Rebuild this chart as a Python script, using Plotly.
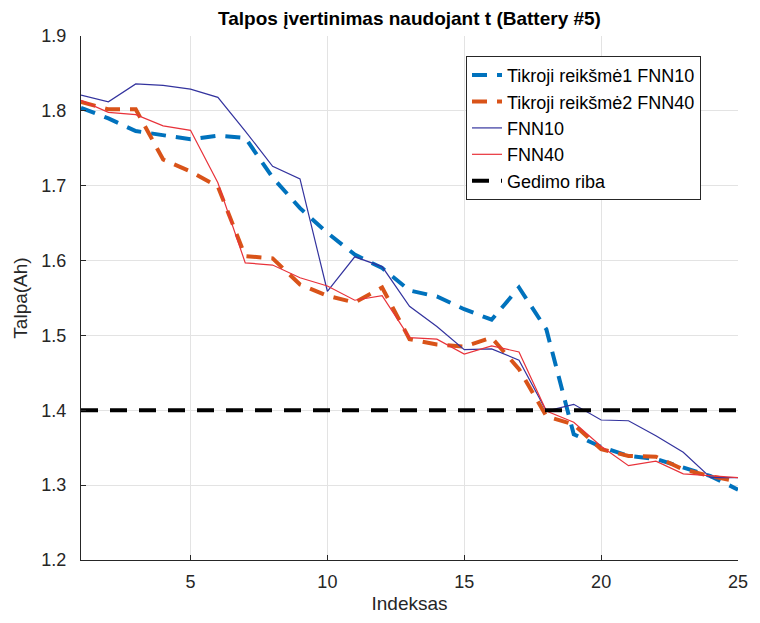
import plotly.graph_objects as go

idx = list(range(1, 26))
true1_fnn10 = [1.804, 1.790, 1.773, 1.768, 1.762, 1.767, 1.764, 1.711, 1.670, 1.637,
               1.608, 1.590, 1.560, 1.552, 1.535, 1.521, 1.564, 1.508, 1.368, 1.351,
               1.339, 1.335, 1.324, 1.312, 1.294]
true2_fnn40 = [1.812, 1.802, 1.802, 1.735, 1.719, 1.699, 1.606, 1.603, 1.568, 1.553,
               1.544, 1.564, 1.495, 1.488, 1.485, 1.497, 1.455, 1.392, 1.381, 1.348,
               1.339, 1.338, 1.321, 1.312, 1.305]
fnn10 = [1.821, 1.812, 1.836, 1.834, 1.829, 1.818, 1.773, 1.726, 1.709, 1.559,
         1.605, 1.592, 1.539, 1.512, 1.481, 1.482, 1.467, 1.399, 1.408, 1.387,
         1.386, 1.366, 1.344, 1.310, 1.310]
fnn40 = [1.814, 1.798, 1.795, 1.780, 1.774, 1.704, 1.597, 1.594, 1.577, 1.566,
         1.547, 1.553, 1.497, 1.495, 1.475, 1.486, 1.478, 1.399, 1.384, 1.352,
         1.326, 1.332, 1.315, 1.312, 1.310]
threshold = 1.4

x_ticks = [5, 10, 15, 20, 25]
y_ticks = [1.2, 1.3, 1.4, 1.5, 1.6, 1.7, 1.8, 1.9]

fig = go.Figure()
fig.add_trace(go.Scatter(x=idx, y=true1_fnn10, mode="lines", name="Tikroji reikšmė1 FNN10",
                         legendgroup="a",
                         line=dict(color="#0072BD", width=4, dash="15px,10px")))
fig.add_trace(go.Scatter(x=idx, y=true2_fnn40, mode="lines", name="Tikroji reikšmė2 FNN40",
                         legendgroup="b",
                         line=dict(color="#D95319", width=4, dash="15px,10px")))
fig.add_trace(go.Scatter(x=idx, y=fnn10, mode="lines", name="FNN10", legendgroup="c",
                         line=dict(color="#33339e", width=1.2)))
fig.add_trace(go.Scatter(x=idx, y=fnn40, mode="lines", name="FNN40", legendgroup="d",
                         line=dict(color="#e8323a", width=1.2)))
fig.add_trace(go.Scatter(x=[idx[0], idx[-1]], y=[threshold, threshold], mode="lines",
                         name="Gedimo riba", legendgroup="e",
                         line=dict(color="black", width=4, dash="17px,12px")))

font_family = "Liberation Sans, Arial, sans-serif"
fig.update_layout(
    width=760, height=623,
    margin=dict(l=81, r=15, t=36, b=62),
    paper_bgcolor="white", plot_bgcolor="white",
    font=dict(family=font_family, color="#262626"),
    title=dict(text="<b>Talpos įvertinimas naudojant t (Battery #5)</b>",
               xref="paper", x=0.5, xanchor="center", y=1 - 18 / 623, yanchor="middle",
               font=dict(size=19, color="black")),
    showlegend=True,
    legend=dict(x=0.586, y=0.962, xanchor="left", yanchor="top",
                bgcolor="white", bordercolor="#262626", borderwidth=1,
                font=dict(size=18, color="black"), tracegroupgap=0,
                traceorder="grouped"),
)
fig.update_xaxes(range=[1, 25], tickvals=x_ticks, ticks="inside", ticklen=5,
                 tickcolor="#262626", showline=True, linecolor="#262626", linewidth=1,
                 showgrid=True, gridcolor="#e3e3e3", gridwidth=1, zeroline=False,
                 ticklabelstandoff=5,
                 tickfont=dict(size=18), title=dict(text="Indeksas", font=dict(size=19), standoff=6))
fig.update_yaxes(range=[1.2, 1.9], tickvals=y_ticks, tickformat=".1f", ticks="inside", ticklen=5,
                 tickcolor="#262626", showline=True, linecolor="#262626", linewidth=1,
                 showgrid=True, gridcolor="#e3e3e3", gridwidth=1, zeroline=False,
                 ticklabelstandoff=10,
                 tickfont=dict(size=18), title=dict(text="Talpa(Ah)", font=dict(size=19), standoff=8))

fig.write_html("out.html")
